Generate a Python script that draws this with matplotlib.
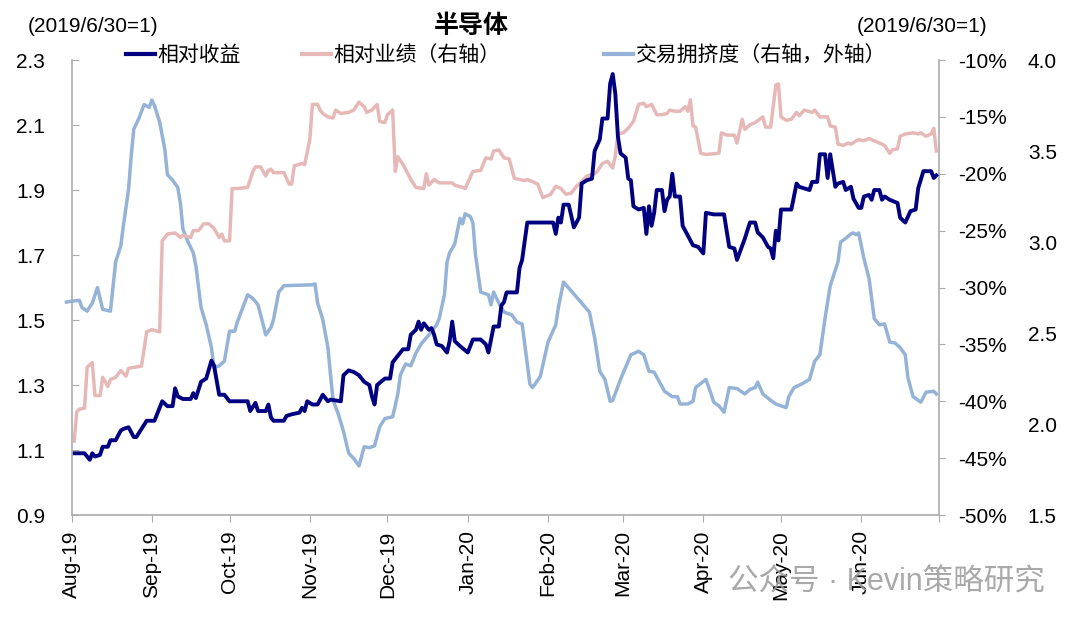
import matplotlib.pyplot as plt
import matplotlib.dates as mdates
import matplotlib.ticker as mticker
import pandas as pd

plt.rcParams['font.family'] = ['Liberation Sans', 'Noto Sans CJK SC']

start = pd.Timestamp('2019-08-01')

# 相对收益 (left axis), x = days since 2019-08-01
rel_days = [1, 5, 7, 8, 9, 11, 12, 14, 15, 17,
            19, 20, 22, 24, 25, 27, 29, 32, 34, 35,
            37, 39, 40, 41, 43, 46, 47, 48, 50, 52,
            54, 55, 57, 59, 61, 68, 69, 71, 72, 75,
            76, 77, 78, 82, 83, 85, 88, 89, 90, 91,
            93, 95, 97, 99, 100, 104, 105, 107, 109, 111,
            113, 115, 116, 117, 118, 121, 123, 124, 126, 128,
            130, 131, 133, 134, 135, 136, 138, 139, 140, 141,
            143, 145, 146, 147, 148, 150, 153, 155, 158, 160,
            161, 163, 165, 166, 167, 168, 172, 173, 174, 176,
            186, 187, 188, 189, 190, 192, 194, 196, 197, 199,
            201, 202, 204, 205, 207, 208, 209, 210, 211, 212,
            214, 215, 216, 217, 219, 221, 222, 223, 224, 225,
            226, 228, 229, 230, 231, 232, 233, 235, 236, 238,
            240, 242, 244, 245, 248, 252, 254, 256, 257, 260,
            262, 264, 265, 267, 269, 270, 271, 272, 273, 274,
            278, 280, 281, 285, 286, 288, 289, 291, 292, 293,
            294, 295, 296, 298, 299, 301, 302, 304, 305, 306,
            308, 309, 310, 312, 313, 314, 316, 319, 320, 322,
            324, 326, 327, 329, 332, 333, 334]
rel_return = [1.09, 1.09, 1.07, 1.09, 1.08, 1.085, 1.11, 1.11, 1.13, 1.13,
              1.16, 1.165, 1.17, 1.14, 1.14, 1.165, 1.19, 1.19, 1.23, 1.25,
              1.235, 1.235, 1.29, 1.265, 1.257, 1.257, 1.275, 1.26, 1.31, 1.32,
              1.375, 1.36, 1.27, 1.27, 1.25, 1.25, 1.22, 1.245, 1.22, 1.22,
              1.24, 1.20, 1.19, 1.19, 1.205, 1.21, 1.215, 1.23, 1.22, 1.25,
              1.24, 1.24, 1.27, 1.25, 1.255, 1.25, 1.33, 1.345, 1.34, 1.33,
              1.31, 1.30, 1.265, 1.24, 1.30, 1.32, 1.32, 1.37, 1.39, 1.41,
              1.41, 1.455, 1.47, 1.495, 1.47, 1.49, 1.47, 1.475, 1.455, 1.425,
              1.42, 1.40, 1.435, 1.495, 1.435, 1.42, 1.40, 1.44, 1.44, 1.425,
              1.40, 1.48, 1.48, 1.545, 1.555, 1.585, 1.585, 1.66, 1.685, 1.80,
              1.80, 1.765, 1.815, 1.80, 1.855, 1.855, 1.785, 1.815, 1.92, 1.93,
              1.935, 2.02, 2.056, 2.12, 2.12, 2.227, 2.257, 2.196, 2.065, 2.013,
              2.00, 1.935, 1.93, 1.85, 1.84, 1.845, 1.765, 1.85, 1.79, 1.83,
              1.90, 1.90, 1.835, 1.87, 1.88, 1.95, 1.88, 1.88, 1.79, 1.76,
              1.73, 1.725, 1.705, 1.83, 1.825, 1.825, 1.725, 1.72, 1.685, 1.75,
              1.80, 1.80, 1.77, 1.754, 1.725, 1.72, 1.69, 1.775, 1.745, 1.84,
              1.84, 1.92, 1.91, 1.90, 1.925, 1.925, 2.01, 2.01, 1.937, 2.01,
              1.96, 1.91, 1.92, 1.925, 1.90, 1.91, 1.873, 1.845, 1.845, 1.88,
              1.885, 1.87, 1.90, 1.90, 1.87, 1.88, 1.87, 1.86, 1.815, 1.80,
              1.835, 1.84, 1.906, 1.958, 1.958, 1.937, 1.945]

# 相对业绩 (right axis, %)
perf_days = [1, 2, 3, 5, 6, 8, 9, 11, 12, 14,
             15, 17, 19, 21, 22, 27, 29, 31, 34, 35,
             37, 40, 42, 43, 46, 47, 49, 51, 53, 55,
             57, 58, 59, 61, 62, 64, 68, 70, 71, 73,
             75, 76, 77, 78, 81, 82, 84, 85, 86, 89,
             90, 92, 93, 95, 96, 97, 99, 101, 102, 104,
             107, 109, 111, 113, 114, 116, 118, 119, 121, 122,
             124, 125, 126, 128, 129, 131, 133, 136, 137, 138,
             140, 142, 147, 148, 151, 152, 153, 155, 158, 160,
             162, 163, 165, 167, 169, 171, 173, 175, 176, 179,
             180, 182, 184, 185, 187, 189, 191, 193, 195, 197,
             199, 202, 203, 205, 207, 209, 210, 211, 213, 215,
             217, 219, 221, 222, 224, 226, 228, 230, 231, 233,
             235, 237, 238, 239, 240, 241, 243, 245, 250, 251,
             253, 256, 257, 259, 260, 262, 264, 267, 268, 270,
             272, 273, 274, 276, 278, 280, 281, 283, 286, 287,
             289, 292, 293, 295, 296, 298, 300, 301, 303, 304,
             306, 308, 310, 312, 314, 316, 317, 319, 320, 322,
             325, 327, 328, 330, 332, 333, 334]
perf_pct = [-43.5, -40.9, -40.7, -40.6, -37.0, -36.6, -39.5, -39.5, -37.9, -38.7,
            -38.1, -37.9, -37.3, -37.8, -37.1, -36.9, -33.9, -33.7, -33.9, -25.9,
            -25.3, -25.2, -25.6, -25.4, -25.6, -25.0, -25.0, -24.4, -24.4, -24.8,
            -25.6, -25.3, -25.9, -25.9, -21.3, -21.3, -21.2, -19.8, -19.4, -19.4,
            -20.2, -19.7, -19.6, -19.9, -19.9, -19.9, -20.9, -20.9, -19.3, -19.1,
            -19.2, -17.0, -13.9, -13.9, -14.4, -14.7, -15.0, -15.1, -14.4, -14.7,
            -14.6, -14.4, -13.7, -14.1, -14.6, -14.4, -13.9, -15.4, -15.5, -14.8,
            -14.4, -19.8, -18.5, -19.2, -19.6, -20.5, -21.2, -21.3, -20.0, -21.0,
            -20.5, -20.8, -20.8, -21.0, -21.2, -21.3, -20.8, -19.8, -19.7, -18.6,
            -18.7, -18.0, -17.9, -18.6, -18.7, -20.4, -20.5, -20.6, -20.5, -20.8,
            -20.9, -22.1, -21.9, -21.8, -21.1, -21.3, -21.8, -21.7, -21.1, -20.7,
            -20.2, -20.0, -19.8, -19.1, -18.9, -19.5, -18.4, -16.5, -16.4, -16.0,
            -15.4, -13.9, -13.8, -14.1, -13.9, -14.8, -14.8, -14.7, -14.4, -14.5,
            -14.5, -14.1, -14.5, -13.5, -15.8, -15.9, -18.2, -18.3, -18.2, -16.4,
            -16.6, -16.6, -17.3, -15.2, -16.1, -15.7, -15.5, -15.0, -15.9, -15.9,
            -12.2, -12.1, -15.0, -15.3, -15.2, -14.6, -14.9, -14.4, -14.6, -14.4,
            -15.0, -15.0, -15.8, -15.9, -17.4, -17.5, -17.3, -17.4, -17.1, -17.0,
            -17.1, -16.9, -17.1, -17.3, -17.5, -18.2, -17.9, -17.8, -16.7, -16.5,
            -16.4, -16.5, -16.4, -16.7, -16.5, -16.0, -18.0]

# 交易拥挤度 (outer right axis)
crowd_days = [-2, 3, 4, 6, 8, 10, 12, 15, 17, 19,
              20, 22, 23, 24, 26, 28, 30, 31, 32, 34,
              36, 37, 39, 41, 42, 43, 45, 47, 48, 50,
              52, 54, 55, 57, 59, 61, 63, 64, 68, 70,
              72, 75, 77, 78, 80, 82, 93, 94, 95, 97,
              99, 100, 101, 103, 105, 107, 109, 111, 113, 115,
              117, 119, 121, 124, 126, 127, 129, 131, 133, 135,
              138, 141, 142, 144, 145, 146, 148, 150, 151, 152,
              154, 155, 156, 158, 161, 162, 163, 165, 167, 170,
              172, 174, 175, 177, 178, 181, 184, 187, 188, 190,
              200, 202, 204, 206, 208, 209, 212, 216, 219, 221,
              223, 225, 229, 232, 234, 235, 238, 240, 241, 245,
              247, 248, 250, 252, 254, 257, 260, 262, 264, 265,
              267, 270, 272, 274, 276, 277, 279, 282, 285, 287,
              289, 291, 293, 296, 297, 299, 301, 302, 303, 304,
              306, 308, 310, 312, 314, 316, 318, 320, 322, 323,
              325, 328, 330, 333, 334]
crowding = [2.67, 2.68, 2.64, 2.62, 2.665, 2.75, 2.63, 2.62, 2.89, 2.98,
            3.09, 3.29, 3.47, 3.62, 3.68, 3.755, 3.74, 3.78, 3.75, 3.66,
            3.51, 3.37, 3.34, 3.30, 3.215, 3.07, 3.0, 2.94, 2.87, 2.64,
            2.545, 2.42, 2.31, 2.32, 2.345, 2.51, 2.51, 2.56, 2.71, 2.69,
            2.655, 2.49, 2.53, 2.575, 2.725, 2.76, 2.765, 2.77, 2.665, 2.575,
            2.42, 2.27, 2.13, 2.055, 1.96, 1.84, 1.81, 1.77, 1.875, 1.87,
            1.88, 1.985, 2.03, 2.04, 2.165, 2.27, 2.33, 2.32, 2.39, 2.44,
            2.49, 2.545, 2.58, 2.71, 2.89, 2.94, 2.99, 3.13, 3.10, 3.155,
            3.14, 3.105, 2.93, 2.725, 2.71, 2.655, 2.725, 2.665, 2.615, 2.60,
            2.56, 2.55, 2.44, 2.22, 2.20, 2.26, 2.45, 2.545, 2.64, 2.78,
            2.615, 2.475, 2.29, 2.245, 2.125, 2.13, 2.245, 2.38, 2.40, 2.38,
            2.29, 2.285, 2.18, 2.15, 2.15, 2.11, 2.11, 2.125, 2.20, 2.245,
            2.165, 2.12, 2.10, 2.065, 2.20, 2.195, 2.165, 2.19, 2.20, 2.23,
            2.165, 2.13, 2.11, 2.10, 2.09, 2.15, 2.20, 2.22, 2.245, 2.345,
            2.38, 2.58, 2.76, 2.89, 3.0, 3.02, 3.045, 3.05, 3.04, 3.05,
            2.91, 2.80, 2.58, 2.545, 2.55, 2.45, 2.445, 2.42, 2.38, 2.255,
            2.15, 2.12, 2.175, 2.18, 2.165]


def to_dates(days):
    return start + pd.to_timedelta(days, unit='D')


navy = '#000080'
pink = '#E6B9B8'
blue = '#95B3D7'
grey = '#ABABAB'

fig = plt.figure(figsize=(10.8, 6.22), dpi=100)
ax = fig.add_axes([0.0663, 0.172, 0.8031, 0.7315])
ax3 = ax.twinx()
ax2 = ax.twinx()
ax.set_zorder(3)
ax2.set_zorder(2)
ax3.set_zorder(1)
ax.patch.set_visible(False)
ax2.patch.set_visible(False)

l3, = ax3.plot(to_dates(crowd_days), crowding, color=blue, lw=2.5, clip_on=False,
               solid_joinstyle='round')
l2, = ax2.plot(to_dates(perf_days), perf_pct, color=pink, lw=2.5, solid_joinstyle='round')
l1, = ax.plot(to_dates(rel_days), rel_return, color=navy, lw=2.8, solid_joinstyle='round')

ax.set_xlim(pd.Timestamp('2019-08-01'), pd.Timestamp('2020-07-01'))
ax.set_ylim(0.9, 2.3)
ax2.set_ylim(-50, -10)
ax3.set_ylim(1.5, 4.0)

ax.set_yticks([0.9, 1.1, 1.3, 1.5, 1.7, 1.9, 2.1, 2.3])
ax.yaxis.set_major_formatter(mticker.FormatStrFormatter('%.1f'))
ax2.set_yticks(range(-50, -5, 5))
ax2.yaxis.set_major_formatter(mticker.FormatStrFormatter('%d%%'))
ax3.set_yticks([1.5, 2.0, 2.5, 3.0, 3.5, 4.0])
ax3.yaxis.set_major_formatter(mticker.FormatStrFormatter('%.1f'))

ticks = pd.date_range('2019-08-01', '2020-07-01', freq='MS')
ax.set_xticks(ticks)
ax.set_xticklabels([t.strftime('%b-%y') for t in ticks[:-1]] + [''])

for a in (ax, ax2, ax3):
    for s in a.spines.values():
        s.set_visible(False)
ax.spines['left'].set_visible(True)
ax.spines['bottom'].set_visible(True)
ax2.spines['right'].set_visible(True)
for s in (ax.spines['left'], ax.spines['bottom'], ax2.spines['right']):
    s.set_color(grey)
    s.set_linewidth(1.2)

ax.tick_params(axis='y', direction='in', length=5, color=grey, pad=19, labelsize=15)
ax.tick_params(axis='x', direction='out', length=5, color=grey, pad=6, labelsize=15,
               labelrotation=90)
ax2.tick_params(axis='y', direction='out', length=4.5, color=grey, pad=9.5, labelsize=15)
ax3.tick_params(axis='y', length=0, pad=64, labelsize=15)

fig.text(0.436, 0.958, '半导体', fontsize=18, fontweight='bold', ha='center', va='center')
fig.text(0.026, 0.958, '(2019/6/30=1)', fontsize=15, ha='left', va='center')
fig.text(0.7935, 0.958, '(2019/6/30=1)', fontsize=15, ha='left', va='center')

for line, label, x in [(l1, '相对收益', 0.1167),
                       (l2, '相对业绩（右轴）', 0.2796),
                       (l3, '交易拥挤度（右轴，外轴）', 0.559)]:
    leg = fig.legend([line], [label], loc='center left', bbox_to_anchor=(x, 0.9116),
                     frameon=False, fontsize=15, handlelength=1.4, handletextpad=0.1,
                     borderpad=0, borderaxespad=0)
    leg.get_lines()[0].set_linewidth(3)

fig.text(0.674, 0.063, '公众号 · Kevin策略研究', fontsize=22, color='#9A9A9A', alpha=0.85,
         ha='left', va='center')

fig.savefig('out.png', dpi=100)
